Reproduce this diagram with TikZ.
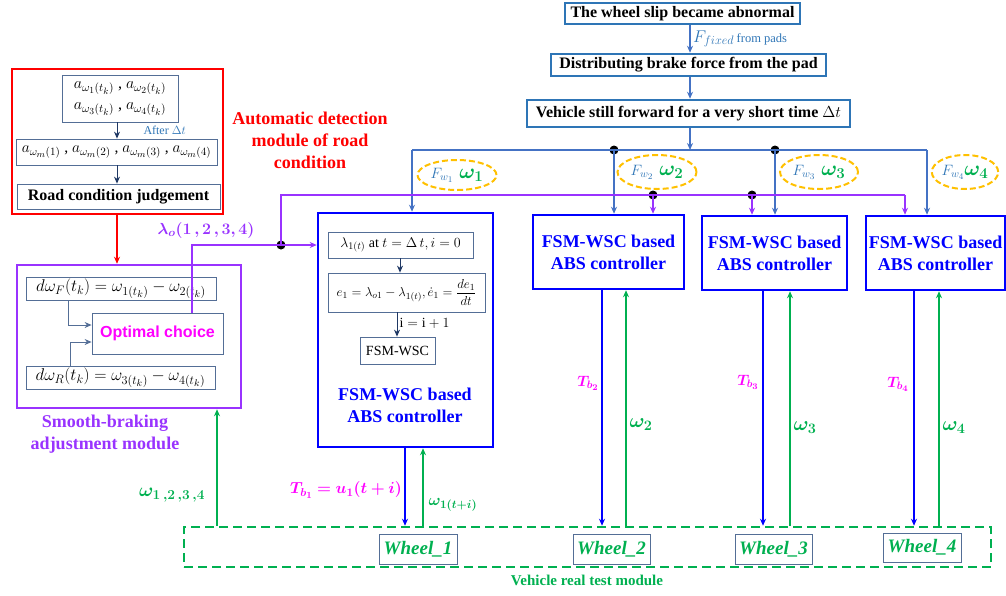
\RequirePackage{fix-cm}
\documentclass[tikz,border=0pt]{standalone}
\usepackage{amsmath,bm}
\usepackage{fontspec}
\setmainfont{Liberation Serif}
\setsansfont{Liberation Sans}
\renewcommand\defaultscriptratio{.72}
\renewcommand\defaultscriptscriptratio{.58}
\usetikzlibrary{arrows.meta,shapes.geometric,calc}
\definecolor{sblue}{RGB}{46,117,182}
\definecolor{lblue}{RGB}{68,114,196}
\definecolor{pblue}{RGB}{0,0,255}
\definecolor{cgreen}{RGB}{0,176,80}
\definecolor{cmag}{RGB}{255,0,255}
\definecolor{cpurp}{RGB}{153,51,255}
\definecolor{corange}{RGB}{255,192,0}
\definecolor{cred}{RGB}{255,0,0}
\definecolor{iboxc}{RGB}{84,110,150}
\definecolor{navy}{RGB}{31,56,100}
\newcommand{\ovaltext}[2]{{\fontsize{15}{18}\selectfont\color{sblue}$F_{w_{#1}}$}#2{\fontsize{21}{24}\selectfont\color{cgreen}$\bm{\omega_{#1}}$}}
\tikzset{
  topbox/.style={draw=sblue,line width=2.5pt,inner sep=0pt,font=\bfseries\fontsize{16}{19}\selectfont},
  ctrl/.style={draw=pblue,line width=2.5pt,inner sep=0pt,text=pblue,align=center,font=\bfseries\fontsize{18}{22}\selectfont},
  ibox/.style={draw=iboxc,line width=0.8pt,inner sep=0pt,align=center},
  wheelbox/.style={draw=iboxc,line width=0.9pt,inner sep=0pt,text=cgreen,font=\bfseries\itshape\fontsize{19}{22}\selectfont},
  bus/.style={draw=lblue,line width=2pt},
  pline/.style={draw=cpurp,line width=2pt},
  tline/.style={draw=pblue,line width=2.5pt},
  gline/.style={draw=cgreen,line width=2pt},
  nline/.style={draw=navy,line width=1pt},
  oval/.style={ellipse,draw=corange,line width=2pt,dash pattern=on 6pt off 3pt,inner sep=0pt},
  jdot/.style={circle,fill=black,inner sep=0pt,minimum size=9pt},
}
\begin{document}
\begin{tikzpicture}[x=1pt,y=-1pt,>={Stealth[length=7pt,width=6pt]}]
\useasboundingbox (0,0) rectangle (1006,595);
% ---------- top chain ----------
\node[topbox,minimum width=235pt,minimum height=21pt] (t1) at (682.5,13.5) {The wheel slip became abnormal};
\node[topbox,minimum width=275pt,minimum height=22pt] (t2) at (688.5,65) {Distributing brake force from the pad};
\node[topbox,minimum width=323pt,minimum height=27pt] (t3) at (688.5,113.5) {Vehicle still forward for a very short time $\Delta t$};
\coordinate (bx) at (690,0);
\coordinate (busL) at (412,150);
\coordinate (busR) at (927,150);
\draw[bus,->] (t1.south -| bx) -- (t2.north -| bx) node[pos=0.5,anchor=west,text=sblue,inner sep=2pt] {{\fontsize{17}{20}\selectfont$F_{fixed}$} {\fontsize{12.5}{15}\selectfont from pads}};
\draw[bus,->] (t2.south -| bx) -- (t3.north -| bx);
\draw[bus,->] (t3.south -| bx) -- (bx |- busL);
% ---------- controllers ----------
\node[ctrl,minimum width=175pt,minimum height=234pt] (c1) at (405.5,330) {};
\node[ctrl,minimum width=151pt,minimum height=74pt] (c2) at (608.5,252) {FSM-WSC based\\ABS controller};
\node[ctrl,minimum width=145pt,minimum height=74pt] (c3) at (774.5,253) {FSM-WSC based\\ABS controller};
\node[ctrl,minimum width=139pt,minimum height=74pt] (c4) at (935.5,253) {FSM-WSC based\\ABS controller};
\node[text=pblue,align=center,font=\bfseries\fontsize{18}{22}\selectfont] (c1lab) at (405,405) {FSM-WSC based\\ABS controller};
\node[ibox,minimum width=145pt,minimum height=26pt,font=\fontsize{14}{17}\selectfont] (k1) at (400.5,245) {$\lambda_{1(t)}$ at $t=\Delta\,t, i=0$};
\node[ibox,minimum width=157pt,minimum height=39pt,font=\fontsize{13}{16}\selectfont] (k2) at (406.5,292.5) {$e_1=\lambda_{o1}-\lambda_{1(t)},\dot{e}_1=\dfrac{de_1}{dt}$};
\node[ibox,minimum width=75pt,minimum height=27pt,font=\fontsize{14}{17}\selectfont] (k3) at (397.5,350.5) {FSM-WSC};
\draw[nline,->] (k1.south -| 400,0) -- (k2.north -| 400,0);
\draw[nline,->] (k2.south -| 397,0) -- (k3.north -| 397,0) node[pos=0.45,anchor=west,inner sep=2pt,font=\fontsize{14}{17}\selectfont] {$\mathrm{i}=\mathrm{i}+1$};
% bus drops
\node[jdot] (d1) at (614,150) {};
\node[jdot] (d2) at (775,150) {};
\draw[bus] (busL) -- (busR);
\draw[bus,->] (busL) -- (c1.north -| busL);
\draw[bus,->] (d1.center) -- (c2.north -| d1);
\draw[bus,->] (d2.center) -- (c3.north -| d2);
\draw[bus,->] (busR) -- (c4.north -| busR);
% ovals
\node[oval,minimum width=79pt,minimum height=30pt] (e1) at (457,175) {\ovaltext{1}{\hspace{6pt}}};
\node[oval,minimum width=79pt,minimum height=34pt] (e2) at (657,172) {\ovaltext{2}{\hspace{6pt}}};
\node[oval,minimum width=78pt,minimum height=34pt] (e3) at (819,172) {\ovaltext{3}{\hspace{6pt}}};
\node[oval,minimum width=64pt,minimum height=34pt] (e4) at (965,172) {\ovaltext{4}{}};
% ---------- road condition module ----------
\node[draw=cred,line width=2.5pt,minimum width=211pt,minimum height=145pt,inner sep=0pt] (rbox) at (117.5,141.5) {};
\node[ibox,minimum width=116pt,minimum height=47pt,font=\fontsize{16}{21}\selectfont] (r1) at (120,98.5) {$a_{\omega_1(t_k)}$ , $a_{\omega_2(t_k)}$\\$a_{\omega_3(t_k)}$ , $a_{\omega_4(t_k)}$};
\node[ibox,minimum width=201pt,minimum height=26pt,font=\fontsize{15.5}{18}\selectfont] (r2) at (116.5,152) {$a_{\omega_m(1)}$ , $a_{\omega_m(2)}$ , $a_{\omega_m(3)}$ , $a_{\omega_m(4)}$};
\node[ibox,minimum width=203pt,minimum height=25pt,font=\bfseries\fontsize{16}{19}\selectfont] (r3) at (118.5,196.5) {Road condition judgement};
\coordinate (ax) at (117,0);
\draw[nline,->] (r1.south -| ax) -- (r2.north -| ax) node[pos=0.5,anchor=west,text=sblue,inner sep=0pt,xshift=26pt,font=\fontsize{12}{14}\selectfont] {After $\Delta t$};
\draw[nline,->] (r2.south -| ax) -- (r3.north -| ax);
\node[text=cred,align=center,font=\bfseries\fontsize{18}{22}\selectfont] (rlab) at (310,140) {Automatic detection\\module of road\\condition};
% ---------- smooth-braking module ----------
\node[draw=cpurp,line width=2.5pt,minimum width=224pt,minimum height=143pt,inner sep=0pt] (pbox) at (129,336.5) {};
\node[ibox,minimum width=190pt,minimum height=23pt,font=\fontsize{17}{20}\selectfont] (p1) at (121,288.5) {$d\omega_F(t_k)=\omega_{1(t_k)}-\omega_{2(t_k)}$};
\node[ibox,minimum width=131pt,minimum height=41pt,text=cmag,font=\sffamily\bfseries\fontsize{16}{19}\selectfont] (opt) at (157.5,333.5) {Optimal choice};
\node[ibox,minimum width=189pt,minimum height=23pt,font=\fontsize{17}{20}\selectfont] (p2) at (120.5,377.5) {$d\omega_R(t_k)=\omega_{3(t_k)}-\omega_{4(t_k)}$};
\draw[nline,draw=iboxc,->] (p1.south -| 68,0) |- (opt.west |- 0,325);
\draw[nline,draw=iboxc,->] (p2.north -| 70,0) |- (opt.west |- 0,342);
\node[text=cpurp,align=center,font=\bfseries\fontsize{18}{22}\selectfont] (plab) at (105,434) {Smooth-braking\\adjustment module};
\draw[draw=cred,line width=2pt,->] (rbox.south -| ax) -- (pbox.north -| ax);
% purple distribution
\node[jdot] (pj) at (281,245) {};
\node[jdot] (pd1) at (653,195) {};
\node[jdot] (pd2) at (752,195) {};
\coordinate (pc) at (281,195);
\coordinate (pr) at (905,195);
\draw[pline,->] (opt.north -| 192,0) |- (c1.west |- pj);
\draw[pline] (pj.center) -- (pc) -- (pr);
\draw[pline,->] (pr) -- (c4.north -| pr);
\draw[pline,->] (pd1.center) -- (c2.north -| pd1);
\draw[pline,->] (pd2.center) -- (c3.north -| pd2);
\node[text=cpurp,font=\fontsize{16}{19}\selectfont] (lo) at (206,230) {$\bm{\lambda_o(1\,,2\,,3,4)}$};
% ---------- vehicle test module ----------
\node[draw=cgreen,line width=2.5pt,dash pattern=on 9pt off 5pt,minimum width=807pt,minimum height=40pt,inner sep=0pt] (vt) at (587.5,547) {};
\node[wheelbox,minimum width=78pt,minimum height=30pt] (w1) at (418,549) {Wheel\_1};
\node[wheelbox,minimum width=77pt,minimum height=30pt] (w2) at (611.5,549) {Wheel\_2};
\node[wheelbox,minimum width=77pt,minimum height=30pt] (w3) at (773.5,549) {Wheel\_3};
\node[wheelbox,minimum width=78pt,minimum height=29pt] (w4) at (922,547.5) {Wheel\_4};
\node[text=cgreen,font=\bfseries\fontsize{15}{18}\selectfont] (vlab) at (587,580) {Vehicle real test module};
% torque / speed links
\draw[tline,->] (c1.south -| 405,0) -- (vt.north -| 405,0);
\draw[gline,<-] (c1.south -| 423,0) -- (vt.north -| 423,0);
\draw[tline,->] (c2.south -| 602,0) -- (vt.north -| 602,0);
\draw[gline,<-] (c2.south -| 626,0) -- (vt.north -| 626,0);
\draw[tline,->] (c3.south -| 763,0) -- (vt.north -| 763,0);
\draw[gline,<-] (c3.south -| 790,0) -- (vt.north -| 790,0);
\draw[tline,->] (c4.south -| 914,0) -- (vt.north -| 914,0);
\draw[gline,<-] (c4.south -| 939,0) -- (vt.north -| 939,0);
\draw[gline,->] (vt.north -| 217,0) -- (pbox.south -| 217,0);
\node[text=cmag,font=\fontsize{16}{19}\selectfont] (tb1) at (346,490) {$\bm{T_{b_1}=u_1(t+i)}$};
\node[text=cgreen,anchor=west,font=\fontsize{16}{19}\selectfont] (o1) at (425,505) {$\bm{\omega_{1(t+i)}}$};
\node[text=cmag,font=\fontsize{15}{18}\selectfont] (tb2) at (588,383) {$\bm{T_{b_2}}$};
\node[text=cmag,font=\fontsize{15}{18}\selectfont] (tb3) at (748,382) {$\bm{T_{b_3}}$};
\node[text=cmag,font=\fontsize{15}{18}\selectfont] (tb4) at (898,384) {$\bm{T_{b_4}}$};
\node[text=cgreen,anchor=west,font=\fontsize{20}{24}\selectfont] (o2) at (626,425) {$\bm{\omega_2}$};
\node[text=cgreen,anchor=west,font=\fontsize{20}{24}\selectfont] (o3) at (790,428) {$\bm{\omega_3}$};
\node[text=cgreen,anchor=west,font=\fontsize{20}{24}\selectfont] (o4) at (939,428) {$\bm{\omega_4}$};
\node[text=cgreen,font=\fontsize{19}{22}\selectfont] (o1234) at (172,495) {$\bm{\omega_{1\,,2\,,3\,,4}}$};
\end{tikzpicture}
\end{document}
